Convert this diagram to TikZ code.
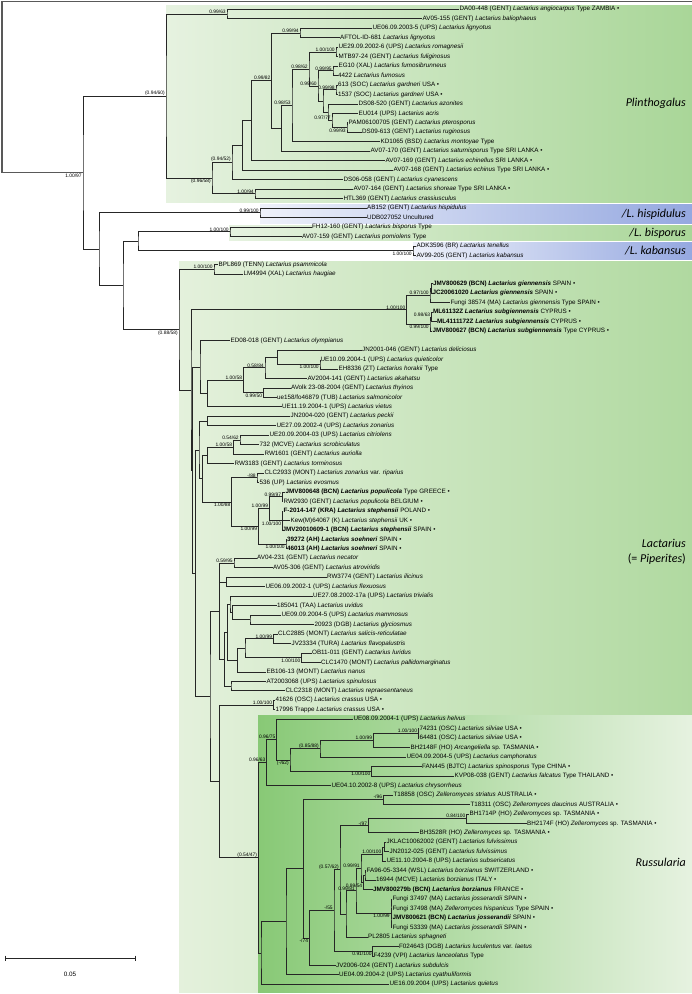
\documentclass[tikz,border=0pt]{standalone}
\usepackage{fontspec}
\setmainfont{Liberation Sans}
\newfontfamily\cladefont{Carlito}
\usetikzlibrary{calc}
\newcommand{\ii}[1]{\textit{#1}}
\newcommand{\bul}{•}
\newcommand{\lf}[3]{\coordinate (L#1) at (#2,{9.3+9.466*#1}); \node[lfs] (T#1) at (L#1) {#3};}
\newcommand{\nd}[4]{\path let \p1=(#3), \p2=(#4) in coordinate (#1) at (#2pt,{0.5*\y1+0.5*\y2}); \draw[br] (#3) -| (#1) |- (#4);}
\newcommand{\ndt}[5]{\path let \p1=(#3), \p2=(#5) in coordinate (#1) at (#2pt,{0.5*\y1+0.5*\y2}); \draw[br] (#3) -| (#1) |- (#5); \draw[br] (#1) |- (#4);}
\newcommand{\ndq}[6]{\path let \p1=(#3), \p2=(#6) in coordinate (#1) at (#2pt,{0.5*\y1+0.5*\y2}); \draw[br] (#3) -| (#1) |- (#6); \draw[br] (#1) |- (#4); \draw[br] (#1) |- (#5);}
\newcommand{\ba}[2]{\node[bs,anchor=south east] at ($(#1)+(-0.8,-0.2)$) {#2};}
\newcommand{\bb}[2]{\node[bs,anchor=north east] at ($(#1)+(-0.8,0.5)$) {#2};}
\tikzset{
  br/.style={line width=0.8pt, draw=black!85},
  lfs/.style={anchor=west, inner sep=0.4pt, font=\fontsize{6.3}{7}\selectfont},
  bs/.style={inner sep=0.3pt, font=\fontsize{4.9}{5.5}\selectfont},
  clade/.style={anchor=east, inner sep=0pt, font=\cladefont\itshape\fontsize{12}{14}\selectfont}
}
\definecolor{gL}{HTML}{E6F2E0}
\definecolor{gR}{HTML}{A9D698}
\definecolor{gLL}{HTML}{E4F1DC}
\definecolor{gRL}{HTML}{B0D9A0}
\definecolor{gD}{HTML}{88C976}
\definecolor{bL}{HTML}{EEF1FA}
\definecolor{bR}{HTML}{95A8E0}
\begin{document}
\begin{tikzpicture}[x=1pt,y=-1pt]
\useasboundingbox (0,0) rectangle (692,994);
\fill[white] (0,0) rectangle (692,994);
% clade boxes
\shade[left color=gL, right color=gR] (166,5) rectangle (692,202);
\shade[left color=bL, right color=bR] (260,204) rectangle (692,223);
\shade[left color=gL, right color=gR] (229,225) rectangle (692,240.5);
\shade[left color=bL, right color=bR] (413,242) rectangle (692,259);
\shade[left color=gLL, right color=gRL] (179,261) rectangle (692,992);
\shade[left color=gD, right color=gL] (258,715) rectangle (692,992);
% leaves
\lf{0}{459}{DA00-448 (GENT) \ii{Lactarius angiocarpus} Type ZAMBIA \bul}
\lf{1}{422}{AV05-155 (GENT) \ii{Lactarius baliophaeus}}
\lf{2}{372}{UE06.09.2003-5 (UPS) \ii{Lactarius lignyotus}}
\lf{3}{339.5}{AFTOL-ID-681 \ii{Lactarius lignyotus}}
\lf{4}{338}{UE29.09.2002-6 (UPS) \ii{Lactarius romagnesii}}
\lf{5}{338}{MTB97-24 (GENT) \ii{Lactarius fuliginosus}}
\lf{6}{338}{EG10 (XAL) \ii{Lactarius fumosibrunneus}}
\lf{7}{337.5}{4422 \ii{Lactarius fumosus}}
\lf{8}{337.5}{613 (SOC) \ii{Lactarius gardneri} USA \bul}
\lf{9}{337.5}{1537 (SOC) \ii{Lactarius gardneri} USA \bul}
\lf{10}{358}{DS08-520 (GENT) \ii{Lactarius azonites}}
\lf{11}{358}{EU014 (UPS) \ii{Lactarius acris}}
\lf{12}{348}{PAM06100705 (GENT) \ii{Lactarius pterosporus}}
\lf{13}{361.5}{DS09-613 (GENT) \ii{Lactarius ruginosus}}
\lf{14}{380}{KD1065 (BSD) \ii{Lactarius montoyae} Type}
\lf{15}{370}{AV07-170 (GENT) \ii{Lactarius saturnisporus} Type SRI LANKA \bul}
\lf{16}{385}{AV07-169 (GENT) \ii{Lactarius echinellus} SRI LANKA \bul}
\lf{17}{393}{AV07-168 (GENT) \ii{Lactarius echinus} Type SRI LANKA \bul}
\lf{18}{343}{DS06-058 (GENT) \ii{Lactarius cyanescens}}
\lf{19}{353}{AV07-164 (GENT) \ii{Lactarius shoreae} Type SRI LANKA \bul}
\lf{20}{343}{HTL369 (GENT) \ii{Lactarius crassiusculus}}
\lf{21}{366.5}{AB152 (GENT) \ii{Lactarius hispidulus}}
\lf{22}{366.5}{UDB027052 Uncultured}
\lf{23}{311.5}{FH12-160 (GENT) \ii{Lactarius bisporus} Type}
\lf{24}{301.5}{AV07-159 (GENT) \ii{Lactarius pomiolens} Type}
\lf{25}{416}{ADK3596 (BR) \ii{Lactarius tenellus}}
\lf{26}{416}{AV99-205 (GENT) \ii{Lactarius kabansus}}
\lf{27}{218}{BPL869 (TENN) \ii{Lactarius psammicola}}
\lf{28}{243}{LM4994 (XAL) \ii{Lactarius haugiae}}
\lf{29}{432.5}{\textbf{JMV800629 (BCN) \ii{Lactarius giennensis}} SPAIN \bul}
\lf{30}{432}{\textbf{JC20061020 \ii{Lactarius giennensis}} SPAIN \bul}
\lf{31}{450}{Fungi 38574 (MA) \ii{Lactarius giennensis} Type SPAIN \bul}
\lf{32}{432.5}{\textbf{ML61132Z \ii{Lactarius subgiennensis}} CYPRUS \bul}
\lf{33}{436.5}{\textbf{ML4111172Z \ii{Lactarius subgiennensis}} CYPRUS \bul}
\lf{34}{432}{\textbf{JMV800627 (BCN) \ii{Lactarius subgiennensis}} Type CYPRUS \bul}
\lf{35}{230}{ED08-018 (GENT) \ii{Lactarius olympianus}}
\lf{36}{361.5}{JN2001-046 (GENT) \ii{Lactarius deliciosus}}
\lf{37}{320}{UE10.09.2004-1 (UPS) \ii{Lactarius quieticolor}}
\lf{38}{338}{EH8336 (ZT) \ii{Lactarius horakii} Type}
\lf{39}{307}{AV2004-141 (GENT) \ii{Lactarius akahatsu}}
\lf{40}{290.5}{AVolk 23-08-2004 (GENT) \ii{Lactarius thyinos}}
\lf{41}{276.5}{ue158/fo46879 (TUB) \ii{Lactarius salmonicolor}}
\lf{42}{281.5}{UE11.19.2004-1 (UPS) \ii{Lactarius vietus}}
\lf{43}{290}{JN2004-020 (GENT) \ii{Lactarius peckii}}
\lf{44}{276}{UE27.09.2002-4 (UPS) \ii{Lactarius zonarius}}
\lf{45}{269}{UE20.09.2004-03 (UPS) \ii{Lactarius citriolens}}
\lf{46}{259}{732 (MCVE) \ii{Lactarius scrobiculatus}}
\lf{47}{264}{RW1601 (GENT) \ii{Lactarius auriolla}}
\lf{48}{234}{RW3183 (GENT) \ii{Lactarius torminosus}}
\lf{49}{264}{CLC2933 (MONT) \ii{Lactarius zonarius} var. \ii{riparius}}
\lf{50}{259}{536 (UP) \ii{Lactarius evosmus}}
\lf{51}{285}{\textbf{JMV800648 (BCN) \ii{Lactarius populicola}} Type GREECE \bul}
\lf{52}{283}{RW2930 (GENT) \ii{Lactarius populicola} BELGIUM \bul}
\lf{53}{283}{\textbf{F-2014-147 (KRA) \ii{Lactarius stephensii}} POLAND \bul}
\lf{54}{290}{Kew(M)64067 (K) \ii{Lactarius stephensii} UK \bul}
\lf{55}{282}{\textbf{JMV20010609-1 (BCN) \ii{Lactarius stephensii}} SPAIN \bul}
\lf{56}{286.5}{\textbf{39272 (AH) \ii{Lactarius soehneri}} SPAIN \bul}
\lf{57}{286.5}{\textbf{46013 (AH) \ii{Lactarius soehneri}} SPAIN \bul}
\lf{58}{256.5}{AV04-231 (GENT) \ii{Lactarius necator}}
\lf{59}{272.5}{AV05-306 (GENT) \ii{Lactarius atroviridis}}
\lf{60}{326.5}{RW3774 (GENT) \ii{Lactarius ilicinus}}
\lf{61}{265}{UE06.09.2002-1 (UPS) \ii{Lactarius flexuosus}}
\lf{62}{312.5}{UE27.08.2002-17a (UPS) \ii{Lactarius trivialis}}
\lf{63}{276.5}{185041 (TAA) \ii{Lactarius uvidus}}
\lf{64}{281}{UE09.09.2004-5 (UPS) \ii{Lactarius mammosus}}
\lf{65}{314}{20923 (DGB) \ii{Lactarius glyciosmus}}
\lf{66}{277.5}{CLC2885 (MONT) \ii{Lactarius salicis-reticulatae}}
\lf{67}{291}{JV23334 (TURA) \ii{Lactarius flavopalustris}}
\lf{68}{311.5}{OB11-011 (GENT) \ii{Lactarius luridus}}
\lf{69}{320.5}{CLC1470 (MONT) \ii{Lactarius pallidomarginatus}}
\lf{70}{266}{EB106-13 (MONT) \ii{Lactarius nanus}}
\lf{71}{266}{AT2003068 (UPS) \ii{Lactarius spinulosus}}
\lf{72}{285}{CLC2318 (MONT) \ii{Lactarius repraesentaneus}}
\lf{73}{275}{41626 (OSC) \ii{Lactarius crassus} USA \bul}
\lf{74}{275}{17996 Trappe \ii{Lactarius crassus} USA \bul}
\lf{75}{353}{UE08.09.2004-1 (UPS) \ii{Lactarius helvus}}
\lf{76}{419}{74231 (OSC) \ii{Lactarius silviae} USA \bul}
\lf{77}{419}{64481 (OSC) \ii{Lactarius silviae} USA \bul}
\lf{78}{410}{BH2148F (HO) \ii{Arcangeliella} sp. TASMANIA \bul}
\lf{79}{406}{UE04.09.2004-5 (UPS) \ii{Lactarius camphoratus}}
\lf{80}{421.5}{FAN445 (BJTC) \ii{Lactarius spinosporus} Type CHINA \bul}
\lf{81}{454}{KVP08-038 (GENT) \ii{Lactarius falcatus} Type THAILAND \bul}
\lf{82}{331}{UE04.10.2002-8 (UPS) \ii{Lactarius chrysorrheus}}
\lf{83}{393}{T18858 (OSC) \ii{Zelleromyces striatus} AUSTRALIA \bul}
\lf{84}{470}{T18311 (OSC) \ii{Zelleromyces daucinus} AUSTRALIA \bul}
\lf{85}{469}{BH1714P (HO) \ii{Zelleromyces} sp. TASMANIA \bul}
\lf{86}{526.5}{BH2174F (HO) \ii{Zelleromyces} sp. TASMANIA \bul}
\lf{87}{419}{BH3528R (HO) \ii{Zelleromyces} sp. TASMANIA \bul}
\lf{88}{386}{JKLAC10062002 (GENT) \ii{Lactarius fulvissimus}}
\lf{89}{389}{JN2012-025 (GENT) \ii{Lactarius fulvissimus}}
\lf{90}{386}{UE11.10.2004-8 (UPS) \ii{Lactarius subsericatus}}
\lf{91}{366}{FA96-05-3344 (WSL) \ii{Lactarius borzianus} SWITZERLAND \bul}
\lf{92}{375.5}{16944 (MCVE) \ii{Lactarius borzianus} ITALY \bul}
\lf{93}{372.5}{\textbf{JMV800279b (BCN) \ii{Lactarius borzianus}} FRANCE \bul}
\lf{94}{392}{Fungi 37497 (MA) \ii{Lactarius josserandii} SPAIN \bul}
\lf{95}{392}{Fungi 37498 (MA) \ii{Zelleromyces hispanicus} Type SPAIN \bul}
\lf{96}{392}{\textbf{JMV800621 (BCN) \ii{Lactarius josserandii}} SPAIN \bul}
\lf{97}{392}{Fungi 53339 (MA) \ii{Lactarius josserandii} SPAIN \bul}
\lf{98}{367.5}{PL2805 \ii{Lactarius sphagneti}}
\lf{99}{398.5}{F024643 (DGB) \ii{Lactarius luculentus} var. \ii{laetus}}
\lf{100}{373}{F4239 (VPI) \ii{Lactarius lanceolatus} Type}
\lf{101}{335.5}{JV2006-024 (GENT) \ii{Lactarius subdulcis}}
\lf{102}{338.5}{UE04.09.2004-2 (UPS) \ii{Lactarius cyathuliformis}}
\lf{103}{389}{UE16.09.2004 (UPS) \ii{Lactarius quietus}}
% Plinthogalus
\nd{P1}{227}{L0}{L1}
\nd{Q1}{300}{L2}{L3}
\nd{U}{336}{L4}{L5}
\nd{E}{333}{L6}{L7}
\nd{G}{336}{L8}{L9}
\nd{T}{347}{L12}{L13}
\nd{V}{332}{L11}{T}
\nd{Vf}{328}{L10}{V}
\nd{Vc}{323}{G}{Vf}
\nd{Vb}{318}{E}{Vc}
\nd{Va}{309}{U}{Vb}
\nd{Nn}{292}{Va}{L14}
\nd{Nm}{281.7}{Nn}{L15}
\nd{Qb}{271.7}{Q1}{Nm}
\nd{Nsix}{251.7}{Qb}{L16}
\nd{Nfour}{242.7}{Nsix}{L17}
\nd{Pc}{232}{Nfour}{L18}
\nd{Pe}{255}{L19}{L20}
\nd{Pb}{212}{Pc}{Pe}
\nd{P}{166}{P1}{Pb}
% small clades
\nd{H}{260}{L21}{L22}
\nd{BI}{230}{L23}{L24}
\nd{KA}{413}{L25}{L26}
\nd{D}{138}{BI}{KA}
% Lactarius
\nd{BPL}{214}{L27}{L28}
\nd{GNa}{431.5}{L29}{L30}
\nd{GN}{430}{GNa}{L31}
\nd{SGa}{431.5}{L32}{L33}
\nd{SG}{430}{SGa}{L34}
\nd{GIE}{406.7}{GN}{SG}
\nd{Nthirtyseven}{320}{L37}{L38}
\nd{Nthirtysix}{277.7}{L36}{Nthirtyseven}
\nd{Nthirtysixb}{265}{Nthirtysix}{L39}
\nd{Nforty}{263.3}{L40}{L41}
\nd{Nx}{243.3}{Nthirtysixb}{Nforty}
\nd{Ndd}{207.3}{Nx}{L42}
\nd{Nolym}{200}{L35}{Ndd}
\nd{Nfortythree}{207.3}{L43}{L44}
\nd{Nfortyfive}{240}{L45}{L46}
\nd{Nfortysix}{233.3}{Nfortyfive}{L47}
\nd{Ntor}{207.3}{Nfortysix}{L48}
\nd{Nfortynine}{257}{L49}{L50}
\nd{Nfiftyone}{282.3}{L51}{L52}
\ndt{Nfiftythree}{282.3}{L53}{L54}{L55}
\nd{Nps}{269.3}{Nfiftyone}{Nfiftythree}
\nd{Nsoe}{286}{L56}{L57}
\nd{Npop}{258.3}{Nps}{Nsoe}
\nd{Npip}{231.7}{Nfortynine}{Npop}
\nd{Nxb}{202.3}{Ntor}{Npip}
\nd{Nw}{199}{Nfortythree}{Nxb}
\nd{Nfiftyeight}{234}{L58}{L59}
\nd{NRW}{226.7}{L60}{L61}
\nd{Nsixtyfour}{250}{L64}{L65}
\nd{Nsixtythree}{232.7}{L63}{Nsixtyfour}
\nd{Nsixtytwo}{230}{L62}{Nsixtythree}
\nd{Nsixtysixa}{273.3}{L66}{L67}
\nd{Nsixtyeight}{301.7}{L68}{L69}
\nd{Nsixtysix}{245}{Nsixtysixa}{Nsixtyeight}
\nd{Nseventy}{237.3}{Nsixtysix}{L70}
\nd{Nq}{227.7}{Nsixtytwo}{Nseventy}
\nd{Nseventyone}{231}{L71}{L72}
\nd{Nqq}{224.3}{Nq}{Nseventyone}
\ndt{Nu}{219.3}{Nfiftyeight}{NRW}{Nqq}
\nd{Nseventythree}{273.3}{L73}{L74}
% Russularia
\nd{Nsil}{418.3}{L76}{L77}
\nd{Nsilb}{373.3}{Nsil}{L78}
\nd{Narc}{320}{Nsilb}{L79}
\nd{Nfal}{371.7}{L80}{L81}
\nd{Nra}{290}{Narc}{Nfal}
\nd{Nrb}{276.7}{L75}{Nra}
\nd{Nrc}{266.7}{Nrb}{L82}
\nd{Nzel}{383.3}{L83}{L84}
\nd{Nbha}{466.7}{L85}{L86}
\nd{Nbh}{368.3}{Nbha}{L87}
\nd{Nfa}{384.3}{L88}{L89}
\nd{Nful}{382.7}{Nfa}{L90}
\nd{Nbora}{365}{L91}{L92}
\nd{Nbor}{363.5}{Nbora}{L93}
\nd{Nfb}{361}{Nful}{Nbor}
\ndq{Njos}{391}{L94}{L95}{L96}{L97}
\nd{Nj}{356}{Nfb}{Njos}
\nd{NRg}{346}{Nj}{L98}
\nd{NRf}{340}{Nbh}{NRg}
\nd{Nlan}{372.8}{L99}{L100}
\nd{NRe}{334}{NRf}{Nlan}
\nd{NRd}{309.3}{NRe}{L101}
\nd{NRh}{303.3}{Nzel}{NRd}
\nd{NRc}{286}{NRh}{L102}
\nd{Rzb}{261}{NRc}{L103}
\nd{Rz}{258.3}{Nrc}{Rzb}
\nd{NLR}{219.3}{Nseventythree}{Rz}
\nd{Nz}{210}{Nu}{NLR}
\nd{Ny}{195.7}{Nw}{Nz}
\nd{Mb}{192.5}{Nolym}{Ny}
\nd{Ma}{191}{GIE}{Mb}
\nd{Lc}{179}{BPL}{Ma}
\nd{C}{123}{D}{Lc}
\nd{B}{99}{H}{C}
\nd{A}{83}{P}{B}
% root and outgroup line
\coordinate (Otop) at (692,1.5);
\draw[br, line width=1.1pt, draw=black!65] (Otop) -| (2,87) |- (A);
% support values
\ba{P1}{0.99/63} \ba{Q1}{0.99/94} \ba{U}{1.00/100} \ba{E}{0.99/95} \ba{G}{0.99/98}
\ba{Vb}{0.99/60} \ba{Va}{0.98/62} \ba{Qb}{0.99/82} \ba{Nn}{0.98/53} \ba{V}{0.97/77} \bb{T}{0.99/93}
\ba{P}{(0.94/60)} \bb{A}{1.00/97} \bb{Pb}{(0.96/58)} \ba{Pc}{(0.94/52)} \ba{Pe}{1.00/94}
\ba{H}{0.99/100} \ba{BI}{1.00/100} \bb{KA}{1.00/100}
\ba{BPL}{1.00/100} \bb{Lc}{(0.88/58)} \ba{GIE}{1.00/100} \ba{GN}{0.97/100} \ba{SGa}{0.98/63} \bb{SG}{0.99/100}
\bb{Nthirtyseven}{1.00/100} \ba{Nthirtysixb}{0.58/84} \ba{Nx}{1.00/58} \bb{Nforty}{0.99/50}
\ba{Nfortyfive}{0.54/62} \ba{Nfortysix}{1.00/58} \ba{Nfortynine}{-/88} \ba{Nfiftyone}{0.99/97}
\ba{Nps}{1.00/99} \bb{Nfiftythree}{1.00/100} \bb{Npop}{1.00/99} \bb{Nsoe}{1.00/100} \bb{Npip}{1.00/88}
\ba{Nfiftyeight}{0.59/95} \ba{Nsixtysixa}{1.00/99} \bb{Nsixtyeight}{1.00/100} \ba{Nseventythree}{1.00/100}
\ba{Nrb}{0.96/75} \ba{Nrc}{0.96/63} \ba{Narc}{(0.85/88)} \bb{Nra}{(-/62)} \ba{Nsilb}{1.00/99} \ba{Nsil}{1.00/100}
\bb{Nfal}{1.00/100} \ba{Nzel}{-/96} \ba{Nbh}{-/97} \ba{Nbha}{0.84/100} \ba{Nful}{1.00/100} \ba{Nfb}{0.99/91}
\bb{Nbor}{0.99/54} \ba{Nj}{0.99/81} \bb{Njos}{1.00/99} \ba{NRf}{(0.57/62)} \ba{NRe}{-/55} \bb{NRd}{-/74}
\bb{Nlan}{0.91/100} \ba{Rz}{(0.54/47)}
% clade names
\node[clade] (cP) at (686,103) {Plinthogalus};
\node[clade] (cH) at (686,214) {/L. hispidulus};
\node[clade] (cB) at (686,233) {/L. bisporus};
\node[clade] (cK) at (686,250.5) {/L. kabansus};
\node[clade] (cL1) at (686,543) {Lactarius};
\node[clade] (cL2) at (686,559) {{\upshape(= }Piperites{\upshape)}};
\node[clade] (cR) at (686,862) {Russularia};
% scale bar
\coordinate (s1) at (5,958); \coordinate (s2) at (135,958);
\draw[br] (s1) -- (s2);
\draw[br] ($(s1)+(0,-2.5)$) -- ($(s1)+(0,2.5)$);
\draw[br] ($(s2)+(0,-2.5)$) -- ($(s2)+(0,2.5)$);
\node[font=\fontsize{6.3}{7}\selectfont] (sl) at (70,974) {0.05};
\end{tikzpicture}
\end{document}
